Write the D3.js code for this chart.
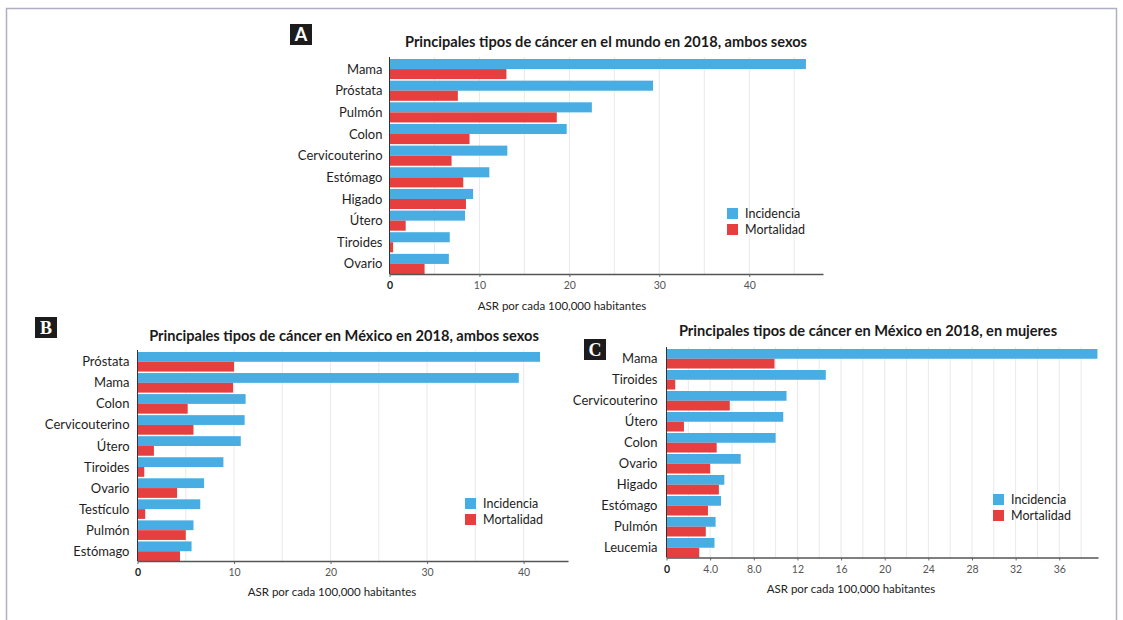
<!DOCTYPE html>
<html><head><meta charset="utf-8">
<script src="https://cdn.jsdelivr.net/npm/d3@7"></script>
<style>
body{margin:0;background:#fff;}
svg{display:block;font-family:Lato,"Open Sans",sans-serif;}
</style></head><body>
<svg id="chart" width="1123" height="620"></svg>
<script>
// Series shared by the three panels
const seriesNames = ["Incidencia", "Mortalidad"];
const seriesColors = ["#47ade2", "#e5403f"];
const axisTitle = "ASR por cada 100,000 habitantes";

// A: world, both sexes
const worldTitle = "Principales tipos de cáncer en el mundo en 2018, ambos sexos";
const worldCategories = ["Mama", "Próstata", "Pulmón", "Colon", "Cervicouterino", "Estómago", "Higado", "Útero", "Tiroides", "Ovario"];
const worldIncidence = [46.3, 29.3, 22.5, 19.7, 13.1, 11.1, 9.3, 8.4, 6.7, 6.6];
const worldMortality = [13.0, 7.6, 18.6, 8.9, 6.9, 8.2, 8.5, 1.8, 0.4, 3.9];
const worldTicks = [0, 10, 20, 30, 40];
const worldTickLabels = ["0", "10", "20", "30", "40"];

// B: Mexico, both sexes
const mexicoTitle = "Principales tipos de cáncer en México en 2018, ambos sexos";
const mexicoCategories = ["Próstata", "Mama", "Colon", "Cervicouterino", "Útero", "Tiroides", "Ovario", "Testículo", "Pulmón", "Estómago"];
const mexicoIncidence = [41.7, 39.5, 11.2, 11.1, 10.7, 8.9, 6.9, 6.5, 5.8, 5.6];
const mexicoMortality = [10.0, 9.9, 5.2, 5.8, 1.7, 0.7, 4.1, 0.8, 5.0, 4.4];
const mexicoTicks = [0, 10, 20, 30, 40];
const mexicoTickLabels = ["0", "10", "20", "30", "40"];

// C: Mexico, women
const womenTitle = "Principales tipos de cáncer en México en 2018, en mujeres";
const womenCategories = ["Mama", "Tiroides", "Cervicouterino", "Útero", "Colon", "Ovario", "Higado", "Estómago", "Pulmón", "Leucemia"];
const womenIncidence = [39.5, 14.6, 11.0, 10.7, 10.0, 6.8, 5.3, 5.0, 4.5, 4.4];
const womenMortality = [9.9, 0.8, 5.8, 1.6, 4.6, 4.0, 4.8, 3.8, 3.6, 3.0];
const womenTicks = [0, 4, 8, 12, 16, 20, 24, 28, 32, 36];
const womenTickLabels = ["0", "4.0", "8.0", "12", "16", "20", "24", "28", "32", "36"];

const svg = d3.select("#chart");

// outer frame
svg.append("rect")
  .attr("x", 6.5).attr("y", 8.5)
  .attr("width", 1110).attr("height", 640)
  .attr("fill", "none").attr("stroke", "#aeaec4").attr("stroke-width", 1.5);

function drawPanel(cfg) {
  const g = svg.append("g");
  const x = d3.scaleLinear().domain([0, cfg.xMax]).range([cfg.left, cfg.right]);
  const y = d3.scaleBand().domain(cfg.categories).range([cfg.top, cfg.bottom]).paddingInner(0.07);
  const ys = d3.scaleBand().domain(seriesNames).range([0, y.bandwidth()]);
  const color = d3.scaleOrdinal().domain(seriesNames).range(seriesColors);

  // vertical gridlines
  g.append("g").selectAll("line")
    .data(d3.range(cfg.gridStep, cfg.xMax, cfg.gridStep))
    .join("line")
    .attr("x1", d => x(d)).attr("x2", d => x(d))
    .attr("y1", cfg.top - 2).attr("y2", cfg.bottom)
    .attr("stroke", "#e9e9ec").attr("stroke-width", 1);

  const rows = cfg.categories.map((c, i) => ({
    cat: c,
    values: [
      { key: seriesNames[0], value: cfg.incidence[i] },
      { key: seriesNames[1], value: cfg.mortality[i] }
    ]
  }));

  g.append("g").selectAll("g")
    .data(rows)
    .join("g")
    .attr("transform", d => `translate(0,${y(d.cat)})`)
    .selectAll("rect")
    .data(d => d.values)
    .join("rect")
    .attr("x", x(0))
    .attr("y", d => ys(d.key))
    .attr("width", d => x(d.value) - x(0))
    .attr("height", ys.bandwidth())
    .attr("fill", d => color(d.key));

  // category labels
  g.append("g").selectAll("text")
    .data(cfg.categories)
    .join("text")
    .attr("x", cfg.left - cfg.labelGap)
    .attr("y", d => y(d) + y.bandwidth() / 2)
    .attr("dy", "0.35em")
    .attr("text-anchor", "end")
    .attr("font-size", 13)
    .attr("fill", "#1e1e1e")
    .text(d => d);

  // y axis line
  g.append("line")
    .attr("x1", x(0)).attr("x2", x(0))
    .attr("y1", cfg.top - 2).attr("y2", cfg.bottom)
    .attr("stroke", "#333").attr("stroke-width", 1);

  // x axis
  const ax = g.append("g")
    .attr("transform", `translate(0,${cfg.bottom})`)
    .call(d3.axisBottom(x)
      .tickValues(cfg.ticks)
      .tickFormat((d, i) => cfg.tickLabels[i])
      .tickSize(3)
      .tickSizeOuter(0));
  ax.select(".domain").attr("stroke", "#555").attr("stroke-width", 1.6);
  ax.selectAll(".tick line").attr("stroke", "#666");
  ax.selectAll(".tick text")
    .attr("font-family", "Lato, sans-serif")
    .attr("font-size", 10.5)
    .attr("fill", "#555")
    .attr("dy", "0.9em");
  ax.selectAll(".tick text").filter(d => d === 0)
    .attr("font-weight", "bold").attr("fill", "#222");

  g.append("text")
    .attr("x", cfg.axisTitleX).attr("y", cfg.bottom + cfg.axisTitleDy)
    .attr("text-anchor", "middle")
    .attr("font-size", 11.5)
    .attr("fill", "#222")
    .text(axisTitle);

  // panel title
  g.append("text")
    .attr("x", cfg.titleX).attr("y", cfg.titleY)
    .attr("dy", "0.35em")
    .attr("text-anchor", "middle")
    .attr("font-size", 14.6)
    .attr("font-weight", "bold")
    .attr("fill", "#1a1a1a")
    .text(cfg.title);

  // panel letter
  g.append("rect")
    .attr("x", cfg.boxX).attr("y", cfg.boxY)
    .attr("width", 22).attr("height", 21)
    .attr("fill", "#1c1c1c");
  g.append("text")
    .attr("x", cfg.boxX + 11).attr("y", cfg.boxY + 10.5)
    .attr("dy", "0.36em")
    .attr("text-anchor", "middle")
    .attr("font-family", cfg.letterFont)
    .attr("font-weight", "bold")
    .attr("font-size", 18)
    .attr("fill", "#fff")
    .text(cfg.letter);

  // legend
  const lg = g.append("g").attr("transform", `translate(${cfg.legendX},${cfg.legendY})`);
  const items = lg.selectAll("g").data(seriesNames).join("g")
    .attr("transform", (d, i) => `translate(0,${i * 16})`);
  items.append("rect").attr("width", 11).attr("height", 11).attr("fill", d => color(d));
  items.append("text").attr("x", 18).attr("y", 5.5).attr("dy", "0.35em")
    .attr("font-size", 12.5).attr("fill", "#222").text(d => d);
}

drawPanel({
  title: worldTitle, letter: "A", letterFont: "Lato, sans-serif",
  categories: worldCategories, incidence: worldIncidence, mortality: worldMortality,
  ticks: worldTicks, tickLabels: worldTickLabels, xMax: 48.2, gridStep: 5,
  left: 389.5, right: 823, top: 59, bottom: 274, labelGap: 7,
  titleX: 606, titleY: 42, boxX: 290, boxY: 24,
  legendX: 727, legendY: 208, axisTitleX: 562, axisTitleDy: 36
});

drawPanel({
  title: mexicoTitle, letter: "B", letterFont: "Liberation Serif, serif",
  categories: mexicoCategories, incidence: mexicoIncidence, mortality: mexicoMortality,
  ticks: mexicoTicks, tickLabels: mexicoTickLabels, xMax: 44.6, gridStep: 5,
  left: 137.5, right: 568, top: 352, bottom: 561, labelGap: 8,
  titleX: 344, titleY: 336, boxX: 35, boxY: 317,
  legendX: 465, legendY: 498, axisTitleX: 332, axisTitleDy: 35
});

drawPanel({
  title: womenTitle, letter: "C", letterFont: "Liberation Serif, serif",
  categories: womenCategories, incidence: womenIncidence, mortality: womenMortality,
  ticks: womenTicks, tickLabels: womenTickLabels, xMax: 39.55, gridStep: 2,
  left: 666.5, right: 1098, top: 349, bottom: 557.5, labelGap: 9,
  titleX: 868, titleY: 331, boxX: 584, boxY: 339,
  legendX: 993, legendY: 494, axisTitleX: 851, axisTitleDy: 35
});
</script>
</body></html>
